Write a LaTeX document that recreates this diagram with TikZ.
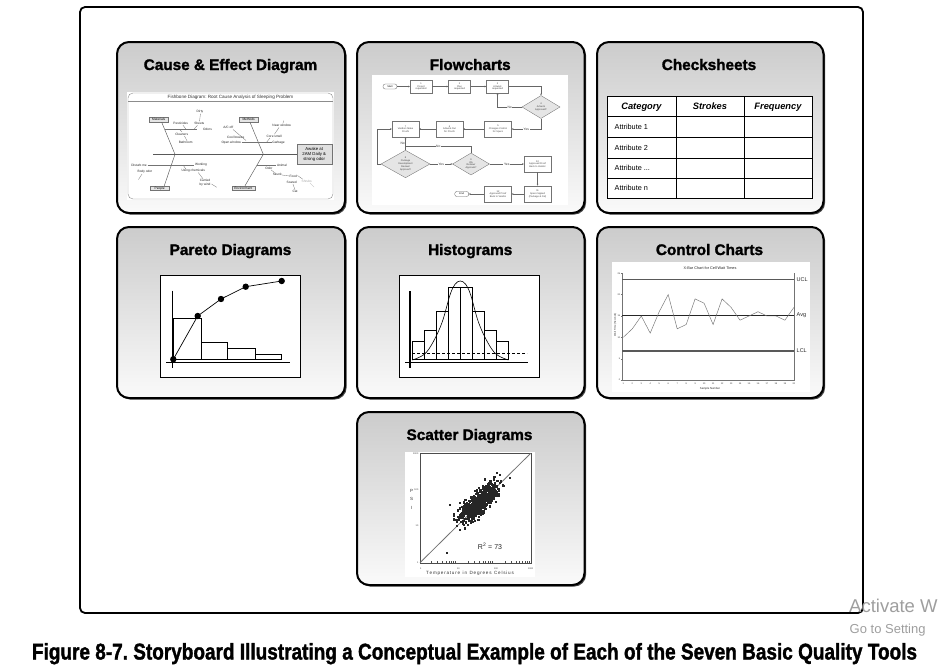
\documentclass[tikz,border=0pt]{standalone}
\usepackage{graphicx}
\usepackage{fontspec}
\setmainfont{Liberation Sans}
\newfontfamily\heavyfont{Liberation Sans}[BoldFeatures={FakeBold=1.6}]
\usetikzlibrary{arrows.meta,shapes.geometric,shadows}
\newcommand\fsz[2]{\fontsize{#1}{#2}\selectfont}
\frenchspacing
\begin{document}
\begin{tikzpicture}[x=1pt,y=-1pt,
  panel/.style={draw=black,line width=2pt,rounded corners=12pt,top color=black!20,bottom color=black!2,
    drop shadow={shadow xshift=1.6pt,shadow yshift=-1.6pt,fill=black!80,opacity=0.9}},
  ptitle/.style={anchor=base,font=\heavyfont\fsz{15.3}{18}\bfseries,inner sep=0pt},
  fbcat/.style={draw=black!55,fill=black!10,line width=0.3pt,font=\fsz{3.2}{3.6},inner sep=0.4pt,minimum width=19pt,minimum height=4.6pt},
  fbl/.style={line width=0.45pt,draw=black!65},
  fbs/.style={line width=0.3pt,draw=black!55},
  fbt/.style={font=\fsz{3.2}{3.6},inner sep=0.2pt,text=black!85},
  fc/.style={rectangle,draw=black!55,fill=white,line width=0.35pt,inner sep=0pt,align=center,font=\fsz{2.4}{2.8},text=black!75,minimum width=27pt,minimum height=16.5pt},
  fcs/.style={fc,minimum width=22pt,minimum height=13pt},
  fd/.style={diamond,draw=black!55,fill=black!10,line width=0.35pt,inner sep=0pt,align=center,font=\fsz{2.4}{2.8},text=black!75},
  fo/.style={rectangle,rounded corners=2.2pt,draw=black!60,fill=white,line width=0.35pt,inner sep=0pt,minimum width=14pt,minimum height=5pt,font=\fsz{2.5}{3}},
  farr/.style={-{Stealth[length=1.8pt,width=1.7pt]},line width=0.35pt,draw=black!60},
  fln/.style={line width=0.35pt,draw=black!60},
  flbl/.style={font=\fsz{3.3}{3.6},fill=white,inner sep=0.6pt,text=black!80},
  cshead/.style={font=\fsz{9.3}{11}\bfseries\itshape,inner sep=0pt,anchor=base},
  csrow/.style={font=\fsz{7.3}{9},inner sep=0pt,anchor=base west},
  tick/.style={font=\fsz{2.3}{2.6},inner sep=0pt,text=black!80},
  cclab/.style={font=\fsz{5.5}{6},anchor=west,inner sep=0pt,text=black!85},
]
\useasboundingbox (0,0) rectangle (938,667);

% ===== outer frame
\draw[line width=1.8pt,rounded corners=5pt] (80,7) rectangle (863,613);

% ===== panels
\path[panel] (117,42) rectangle (345,213);
\path[panel] (357,42) rectangle (584.5,213);
\path[panel] (597,42) rectangle (823.5,213);
\path[panel] (117,227) rectangle (345,398);
\path[panel] (357,227) rectangle (584.5,398);
\path[panel] (597,227) rectangle (823.5,398);
\path[panel] (357,412) rectangle (584.5,585);

\node[ptitle] (t1) at (230.5,70) {Cause \& Effect Diagram};
\node[ptitle] (t2) at (470.2,70) {Flowcharts};
\node[ptitle] (t3) at (709,70) {Checksheets};
\node[ptitle] (t4) at (230.5,255) {Pareto Diagrams};
\node[ptitle] (t5) at (470.2,255) {Histograms};
\node[ptitle] (t6) at (709.5,255) {Control Charts};
\node[ptitle] (t7) at (469.5,440) {Scatter Diagrams};

% ===== 1. Fishbone
\fill[white] (127,92) rectangle (334,200);
\draw[black!45,line width=0.4pt,rounded corners=5pt] (128,93) rectangle (333,199);
\draw[black!45,line width=0.3pt] (128,101.5) -- (333,101.5);
\node[font=\fsz{4.6}{5},inner sep=0pt,text=black!80] (fbtitle) at (230.5,97.3) {Fishbone Diagram: Root Cause Analysis of Sleeping Problem};
\node[draw=black!55,fill=black!12,line width=0.35pt,minimum width=35pt,minimum height=20pt,inner sep=0pt,align=center,font=\fsz{4.3}{5.4}] (eff) at (314.2,154.3) {Awake at\\2AM Daily \&\\strong odor};
\coordinate (sp) at (153.3,154.3);
\coordinate (j1) at (175,154.3);
\coordinate (j2) at (263.3,154.3);
\draw[fbl] (sp) -- (eff.west);
\node[fbcat] (mat) at (158.7,119.8) {Materials};
\node[fbcat] (met) at (248.7,119.8) {Methods};
\node[fbcat] (peo) at (159.7,188.2) {People};
\node[fbcat,minimum width=23pt] (env) at (243.3,188.2) {Environment};
\draw[fbl] ([xshift=3pt]mat.south) -- (j1);
\draw[fbl] ([xshift=1.3pt]met.south) -- (j2);
\draw[fbl] ([xshift=4.6pt]peo.north) -- (j1);
\draw[fbl] ([xshift=1.7pt]env.north) -- (j2);
% materials
\node[fbt] (fa1) at (200,111.7) {Dirty};
\node[fbt] (fa2) at (180.7,123.3) {Pesticides};
\node[fbt] (fa3) at (199.3,123.3) {Sheets};
\node[fbt] (fa4) at (207.5,129.3) {Odors};
\node[fbt] (fa5) at (181.7,134) {Cleaners};
\node[fbt] (fa6) at (185.7,142.7) {Bathroom};
\draw[fbs] (165,129.3) -- (197,129.3);
\draw[fbs] (200.5,113.6) -- (199.5,121.4);
\draw[fbs] (197.5,125.2) -- (194,129.3);
\draw[fbs] (183,125.2) -- (186,129.3);
\draw[fbs] (182,132) -- (179.5,129.3);
\draw[fbs] (187,140.8) -- (184.5,136);
% methods
\node[fbt] (fm1) at (228.3,127.3) {A/C off};
\node[fbt] (fm2) at (235.7,137.3) {Cool breeze};
\node[fbt] (fm3) at (231.2,142.3) {Open window};
\node[fbt] (fm4) at (281.7,125.3) {Near window};
\node[fbt] (fm5) at (274.3,136) {Core smell};
\node[fbt] (fm6) at (278.5,142.3) {Garbage};
\draw[fbs] (241.5,142.3) -- (271.5,142.3);
\draw[fbs] (233,129.5) -- (246,140.5);
\draw[fbs] (283.5,120.5) -- (283,123.4);
\draw[fbs] (279,127.5) -- (274.5,134.2);
\draw[fbs] (270,138) -- (266.5,142.3);
% people
\node[fbt] (fp1) at (139,165) {Disturb me};
\node[fbt] (fp2) at (145,172) {Body odor};
\node[fbt] (fp3) at (201,165) {Working};
\node[fbt] (fp4) at (193.3,171) {Using chemicals};
\node[fbt] (fp5) at (205,180.7) {Carried};
\node[fbt] (fp6) at (205,184.6) {by wind};
\draw[fbs] (147.5,165) -- (194,165);
\draw[fbs] (142,174) -- (138.5,179.5);
\draw[fbs] (186,169.2) -- (183,165);
\draw[fbs] (198.3,172.6) -- (203,178.8);
\draw[fbs] (211.5,184) -- (216.7,187.3);
% environment
\node[fbt] (fe1) at (282,165) {Animal};
\node[fbt] (fe2) at (269,168) {Odor};
\node[fbt] (fe3) at (277.3,174.3) {Skunk};
\node[fbt] (fe4) at (293.3,176.3) {Food};
\node[fbt] (fe5) at (291.7,182.3) {Scared};
\node[fbt] (fe6) at (295,191.7) {Cat};
\node[fbt,text=black!35] (fe7) at (306.7,181) {Shrubs};
\draw[fbs] (257,165) -- (276,165);
\draw[fbs] (271,169.8) -- (274.5,172.6);
\draw[fbs] (282,175) -- (289.5,176);
\draw[fbs] (293,184.2) -- (295,189.8);
\draw[fbs] (297.5,175.5) -- (302.5,179);
\draw[fbs,draw=black!30] (310,183) -- (314,187);

% ===== 2. Flowchart
\fill[white] (371.7,75) rectangle (568.3,205);
\node[fo] (st) at (390,86.5) {Start};
\node[fcs] (b1) at (421,86.5) {1\\Project\\requested};
\node[fcs] (b2) at (459.5,86.5) {2\\Plan\\requested};
\node[fcs] (b3) at (497.5,86.5) {3\\Artwork\\requested};
\node[fd,minimum width=38pt,minimum height=23pt] (d4) at (541,107) {4\\Artwork\\Approved?};
\node[fc] (b5) at (498,129) {5\\Changes Control\\for Specs};
\node[fc] (b6) at (449.5,129) {6\\Artwork Out\\for Proofs};
\node[fc] (b7) at (405.5,129) {7\\Vendors Make\\Proofs};
\node[fd,minimum width=49pt,minimum height=27pt] (d8) at (405.5,164) {8\\Package\\Development\\Review/\\Approval?};
\node[fd,minimum width=37pt,minimum height=22pt] (d9) at (471,164) {9\\QA\\Review/\\Approval?};
\node[fc] (b10) at (537.5,164) {10\\Approved Proof\\Back to Vendor};
\node[fc] (b11) at (537.5,194) {11\\Specs Signed\\(Package \& Cal)};
\node[fc] (b12) at (498,194) {12\\Approved Proof\\Back to Vendor};
\node[fo] (en) at (461.7,194) {End};
\draw[farr] (st) -- (b1);
\draw[farr] (b1) -- (b2);
\draw[farr] (b2) -- (b3);
\draw[farr] (b3.east) -| (d4.north);
\draw[farr] (d4.west) -- node[flbl] (no1) {No} (b3.south |- d4.west) -- (b3.south);
\draw[farr] (d4.south) |- node[flbl,pos=0.75] (ye1) {Yes} (b5.east);
\draw[farr] (b5) -- (b6);
\draw[farr] (b6) -- (b7);
\draw[farr] (d8.north) -- node[flbl,fill=none,anchor=east,pos=0.5] (no2) {No} (b7.south);
\coordinate (lp) at (377.5,164);
\draw[farr] (d8.west) -- (lp) |- (b7.west);
\draw[farr] (d8.east) -- node[flbl] (ye2) {Yes} (d9.west);
\coordinate (jn) at (405.5,146);
\draw[fln] (d9.north) |- node[flbl,pos=0.75] (no3) {No} (jn);
\draw[farr] (d9.east) -- node[flbl] (ye3) {Yes} (b10.west);
\draw[farr] (b10) -- (b11);
\draw[farr] (b11) -- (b12);
\draw[farr] (b12) -- (en);

% ===== 3. Checksheet
\fill[white] (607,96) rectangle (812,198);
\foreach \yy in {116,137,158,178} \draw[line width=0.6pt] (607,\yy) -- (812,\yy);
\foreach \xx in {676,744} \draw[line width=0.6pt] (\xx,96) -- (\xx,198);
\draw[line width=1pt] (607,96) rectangle (812,198);
\node[cshead] (h1) at (641.5,109.8) {Category};
\node[cshead] (h2) at (710,109.8) {Strokes};
\node[cshead] (h3) at (778,109.8) {Frequency};
\node[csrow] (r1) at (614.5,129.2) {Attribute 1};
\node[csrow] (r2) at (614.5,150.2) {Attribute 2};
\node[csrow] (r3) at (614.5,170.7) {Attribute ...};
\node[csrow] (r4) at (614.5,190.7) {Attribute n};

% ===== 4. Pareto
\draw[fill=white,line width=0.6pt] (160.7,275) rectangle (300,377.7);
\draw[line width=0.6pt] (173.3,359.7) rectangle (201,318.3);
\draw[line width=0.6pt] (201,359.7) rectangle (227.7,342.3);
\draw[line width=0.6pt] (227.7,359.7) rectangle (255,348.3);
\draw[line width=0.6pt] (255,359.7) rectangle (281.7,354);
\draw[line width=1.3pt] (172.3,290.7) -- (172.3,367.7);
\draw[line width=1.3pt] (166,362.7) -- (290,362.7);
\draw[line width=0.7pt] (173.3,359.3) -- (197.7,316) -- (221,299) -- (245.7,286.7) -- (281.7,281);
\foreach \px/\py in {173.3/359.3,197.7/316,221/299,245.7/286.7,281.7/281} \fill (\px,\py) circle (3.2);

% ===== 5. Histogram
\draw[fill=white,line width=0.6pt] (399.3,275) rectangle (539,377.7);
\foreach \xa/\xb/\yt in {412.3/424.3/341.7,424.3/436.3/330,436.3/448.3/311.7,448.3/460.3/287.7,460.3/472.3/287.7,472.3/484.3/311.7,484.3/496.3/330,496.3/508.3/341.7}
  \draw[line width=0.6pt] (\xa,359.7) rectangle (\xb,\yt);
\draw[line width=0.6pt,dash pattern=on 3pt off 2pt] (412,353.3) -- (527,353.3);
\draw[line width=1.3pt] (410,291) -- (410,368);
\draw[line width=1.3pt] (405,362.7) -- (528.3,362.7);
\draw[line width=0.6pt] plot[smooth,tension=0.6] coordinates {(412.3,360) (424.3,354.3) (433.3,341.7) (442.3,321.7) (450,295) (455,284.3) (460.3,281) (465.7,284.3) (470.7,295) (478.3,321.7) (487.3,341.7) (496.3,354.3) (508.3,360)};

% ===== 6. Control chart
\fill[white] (611.7,261.7) rectangle (810,391.7);
\node[font=\fsz{3.8}{4},inner sep=0pt,text=black!85] (cct) at (710,267.7) {X-Bar Chart for Cell Wait Times};
\draw[black!55,line width=0.35pt] (622.3,273.3) -- (622.3,380) -- (794.3,380) -- (794.3,273.3);
\foreach \v/\n in {0/a,5/b,10/c,15/d,20/e,25/f} {
  \draw[black!55,line width=0.3pt] (620.8,{380-4.268*\v}) -- (622.3,{380-4.268*\v});
  \node[tick,anchor=east] (cy\n) at (620.3,{380-4.268*\v}) {\v};
}
\foreach \i in {1,...,20} {
  \draw[black!55,line width=0.3pt] ({623.3+8.98*(\i-1)},380) -- ++(0,1.2);
  \node[tick] (cx\i) at ({623.3+8.98*(\i-1)},384) {\i};
}
\node[font=\fsz{2.8}{3},inner sep=0pt,text=black!85] (ccx) at (710,389) {Sample Number};
\node[font=\fsz{2.5}{3},inner sep=0pt,rotate=90,text=black!85] (ccy) at (615.3,325) {Wait Time (Seconds)};
\draw[black!65,line width=1.1pt] (622.3,279.3) -- (794.3,279.3);
\draw[black!85,line width=1.1pt] (622.3,315.3) -- (794.3,315.3);
\draw[black!65,line width=1.1pt] (622.3,351) -- (794.3,351);
\draw[black!55,line width=0.45pt] plot coordinates {(623.3,337.3) (632.3,328.8) (641.3,316.0) (650.2,333.1) (659.2,311.7) (668.2,294.6) (677.2,328.8) (686.2,324.5) (695.1,298.9) (704.1,303.2) (713.1,324.5) (722.1,298.9) (731.1,307.4) (740.0,320.2) (749.0,316.0) (758.0,311.7) (767.0,316.0) (776.0,316.0) (784.9,320.2) (793.9,307.4)};
\node[cclab] (ucl) at (796.5,279.3) {UCL};
\node[cclab] (avg) at (796.5,315.3) {Avg};
\node[cclab] (lcl) at (796.5,351) {LCL};

% ===== 7. Scatter
\fill[white] (405,451.7) rectangle (535,576.7);
\draw[black!70,line width=0.4pt] (420,453.3) rectangle (530.7,562.7);
\foreach \d in {0,1,2} {
  \foreach \k in {2,...,9} {
    \pgfmathsetmacro\tx{420+36.9*(\d+log10(\k))}
    \pgfmathsetmacro\ty{562.7-36.47*(\d+log10(\k))}
    \draw[black!70,line width=0.25pt] (\tx,562.7) -- (\tx,561.3);
    \draw[black!70,line width=0.25pt] (420,\ty) -- (421.4,\ty);
  }
}
\draw[black!55,line width=0.8pt] (420,562.7) -- (530.7,453.3);
\pgfmathsetseed{4242}
\foreach \k in {1,...,650} {
  \pgfmathsetmacro\sa{13*(rand+rand+rand)}
  \pgfmathsetmacro\sb{4.6*(rand+rand+rand)}
  \fill[black!85] ({478+0.707*(\sa+\sb)-1.1},{503+0.707*(\sb-\sa)-1.1}) rectangle ++(2.2,2.2);
}
\foreach \px/\py in {450/505,446.7/552.7,500/475,510/478.3} \fill[black!85] (\px-1.1,\py-1.1) rectangle ++(2.2,2.2);
\node[tick,anchor=east] (sy1) at (418.5,453.3) {1000};
\node[tick,anchor=east] (sy2) at (418.5,490) {100};
\node[tick,anchor=east] (sy3) at (418.5,526) {10};
\node[tick,anchor=east] (sy4) at (418.5,562.7) {1};
\node[tick] (sx1) at (420.7,568.3) {1};
\node[tick] (sx2) at (458.3,568.3) {10};
\node[tick] (sx3) at (496,568.3) {100};
\node[tick] (sx4) at (530.7,568.3) {1000};
\node[font=\fsz{4.6}{5},inner sep=0pt,text=black!80] (sxl) at (470,573.5) {T\,e\,m\,p\,e\,r\,a\,t\,u\,r\,e\ \ i\,n\ \ D\,e\,g\,r\,e\,e\,s\ \ C\,e\,l\,s\,i\,u\,s};
\node[font=\fsz{4.5}{5},inner sep=0pt,text=black!80] (sp1) at (411.7,490.7) {P};
\node[font=\fsz{4.5}{5},inner sep=0pt,text=black!80] (sp2) at (411.7,499.3) {S};
\node[font=\fsz{4.5}{5},inner sep=0pt,text=black!80] (sp3) at (411.7,507.7) {I};
\node[font=\fsz{7}{8},inner sep=0pt,text=black!85] (r2) at (490,546) {R$^{\mathrm{2}}$ = 73};

% ===== caption & watermark
\node[anchor=base,inner sep=0pt] (cap) at (474.5,659.5) {\resizebox{885pt}{16.5pt}{\heavyfont\fsz{20}{24}\bfseries Figure 8-7. Storyboard Illustrating a Conceptual Example of Each of the Seven Basic Quality Tools}};
\node[anchor=base west,inner sep=0pt,text=black!38,font=\fsz{18.5}{20}] (aw1) at (849,612) {Activate W};
\node[anchor=base west,inner sep=0pt,text=black!38,font=\fsz{13}{14}] (aw2) at (849.5,633) {Go to Setting};
\end{tikzpicture}
\end{document}
